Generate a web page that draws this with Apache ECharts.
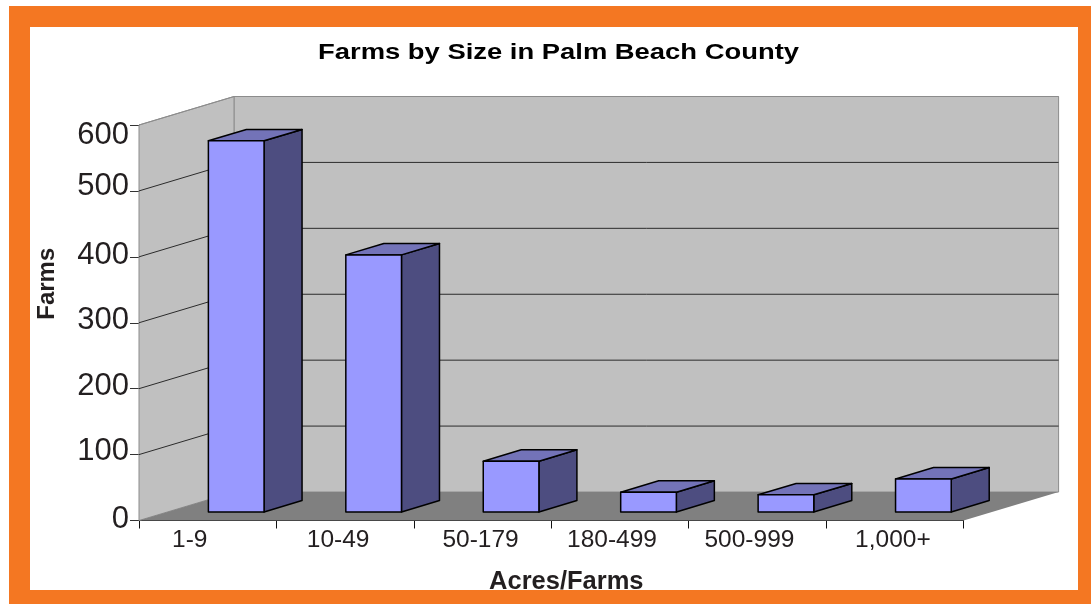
<!DOCTYPE html>
<html>
<head>
<meta charset="utf-8">
<style>
html,body{margin:0;padding:0;background:#fff;}
#chart{width:1091px;height:604px;}
</style>
<script src="https://cdn.jsdelivr.net/npm/echarts@6/dist/echarts.min.js"></script>
</head>
<body>
<div id="chart"></div>
<script>
var categories = ['1-9','10-49','50-179','180-499','500-999','1,000+'];
var farms = [563,390,77,30,26,50];
var gridValues = [100,200,300,400,500,600];
// px the tick labels sit left of the band centre
var labelShift = [18,7,2,8,8,2];
// px the value labels sit below (+) or above (-) their tick
var valueShift = {0:-1,100:-3.5,200:-2.5,300:-2.5,400:-1.5,500:-4.5,600:10};

// fake 3d: how far the back wall is pushed from the axis plane
var DEPTH_X = 95, DEPTH_Y = 28.5;
var BAR_NEAR = 0.3, BAR_DEPTH = 0.4, BAR_WIDTH = 0.405;

var myChart = echarts.init(document.getElementById('chart'));

function plotEdges(api){
    var band = api.size([1,0])[0];
    return {
        left: api.coord([0,0])[0]-band/2,
        right: api.coord([categories.length-1,0])[0]+band/2,
        bottom: api.coord([0,0])[1],
        top: api.coord([0,600])[1]
    };
}

function renderWalls(params,api){
    var e = plotEdges(api);
    var wallStyle = {fill:'#c0c0c0',stroke:'#8c8c8c',lineWidth:1};
    return {type:'group',children:[
        {type:'polygon',shape:{points:[[e.left+DEPTH_X,e.top-DEPTH_Y],[e.right+DEPTH_X,e.top-DEPTH_Y],[e.right+DEPTH_X,e.bottom-DEPTH_Y],[e.left+DEPTH_X,e.bottom-DEPTH_Y]]},style:wallStyle},
        {type:'polygon',shape:{points:[[e.left,e.top],[e.left+DEPTH_X,e.top-DEPTH_Y],[e.left+DEPTH_X,e.bottom-DEPTH_Y],[e.left,e.bottom]]},style:wallStyle},
        {type:'polygon',shape:{points:[[e.left,e.bottom],[e.right,e.bottom],[e.right+DEPTH_X,e.bottom-DEPTH_Y],[e.left+DEPTH_X,e.bottom-DEPTH_Y]]},style:{fill:'#808080'}}
    ]};
}

function renderGridline(params,api){
    var e = plotEdges(api);
    var v = api.value(0);
    var y = api.coord([0,v])[1];
    return {type:'polyline',
        shape:{points:[[e.left,y],[e.left+DEPTH_X,y-DEPTH_Y],[e.right+DEPTH_X,y-DEPTH_Y]]},
        style:{fill:null,stroke:v===600?'#8c8c8c':'#2b2b2b',lineWidth:1}};
}

function renderBar(params,api){
    var p = api.coord([api.value(0),api.value(1)]);
    var band = api.size([1,0])[0];
    var base = api.coord([api.value(0),0])[1]-DEPTH_Y*BAR_NEAR;
    var top = p[1]-DEPTH_Y*BAR_NEAR;
    var x0 = p[0]+DEPTH_X*BAR_NEAR-band*BAR_WIDTH/2;
    var x1 = x0+band*BAR_WIDTH;
    var dx = DEPTH_X*BAR_DEPTH, dy = DEPTH_Y*BAR_DEPTH;
    var edge = {stroke:'#000',lineWidth:1.5,lineJoin:'round'};
    return {type:'group',children:[
        {type:'polygon',shape:{points:[[x1,top],[x1+dx,top-dy],[x1+dx,base-dy],[x1,base]]},style:Object.assign({fill:'#4d4d80'},edge)},
        {type:'polygon',shape:{points:[[x0,top],[x0+dx,top-dy],[x1+dx,top-dy],[x1,top]]},style:Object.assign({fill:'#7373b8'},edge)},
        {type:'polygon',shape:{points:[[x0,top],[x1,top],[x1,base],[x0,base]]},style:Object.assign({fill:'#9999ff'},edge)}
    ]};
}

var valueRich = {};
Object.keys(valueShift).forEach(function(k){
    var s = valueShift[k];
    valueRich['v'+k] = {fontSize:31,color:'#231f20',padding:s>0?[s*2,0,0,0]:[0,0,-s*2,0]};
});

var option = {
    animation:false,
    textStyle:{fontFamily:'Liberation Sans'},
    graphic:[
        {type:'rect',z:-10,silent:true,shape:{x:9,y:6,width:1082,height:598},style:{fill:'#f47722'}},
        {type:'rect',z:-9,silent:true,shape:{x:30,y:27,width:1048,height:563},style:{fill:'#fff'}},
        // the original title is stretched wide, the title component can't do that
        {type:'text',z:10,silent:true,x:558.5,y:52.5,scaleX:1.245,
            style:{text:'Farms by Size in Palm Beach County',align:'center',verticalAlign:'middle',
                font:'bold 22px "Liberation Sans"',fill:'#000'}}
    ],
    grid:{left:139,top:125,width:824.6,height:395.5,outerBoundsMode:'none'},
    xAxis:{
        type:'category',
        data:categories.map(function(c,i){
            return {value:c,textStyle:{padding:[0,labelShift[i]*2,0,0]}};
        }),
        name:'Acres/Farms',
        nameLocation:'middle',
        nameGap:48,
        nameTextStyle:{fontSize:25.5,fontWeight:'bold',color:'#231f20',padding:[0,0,0,30]},
        axisLine:{lineStyle:{color:'#111',width:1}},
        axisTick:{show:true,length:8,lineStyle:{color:'#111'}},
        axisLabel:{fontSize:24.5,color:'#231f20',margin:7,interval:0}
    },
    yAxis:{
        type:'value',
        min:0,
        max:600,
        interval:100,
        name:'Farms',
        nameLocation:'middle',
        nameGap:80,
        nameRotate:90,
        nameTextStyle:{fontSize:24,fontWeight:'bold',color:'#231f20',padding:[0,0,0,78]},
        axisLine:{show:true,lineStyle:{color:'#333',width:1}},
        axisTick:{show:true,length:9,lineStyle:{color:'#333'}},
        axisLabel:{margin:10,formatter:function(v){return '{v'+v+'|'+v+'}';},rich:valueRich},
        splitLine:{show:false}
    },
    series:[
        {type:'custom',z:1,silent:true,renderItem:renderWalls,data:[[0]]},
        {type:'custom',z:2,silent:true,renderItem:renderGridline,data:gridValues.map(function(v){return [v];}),encode:{y:0}},
        {type:'custom',z:3,renderItem:renderBar,data:farms.map(function(v,i){return [i,v];}),encode:{x:0,y:1}}
    ]
};
myChart.setOption(option);
</script>
</body>
</html>
